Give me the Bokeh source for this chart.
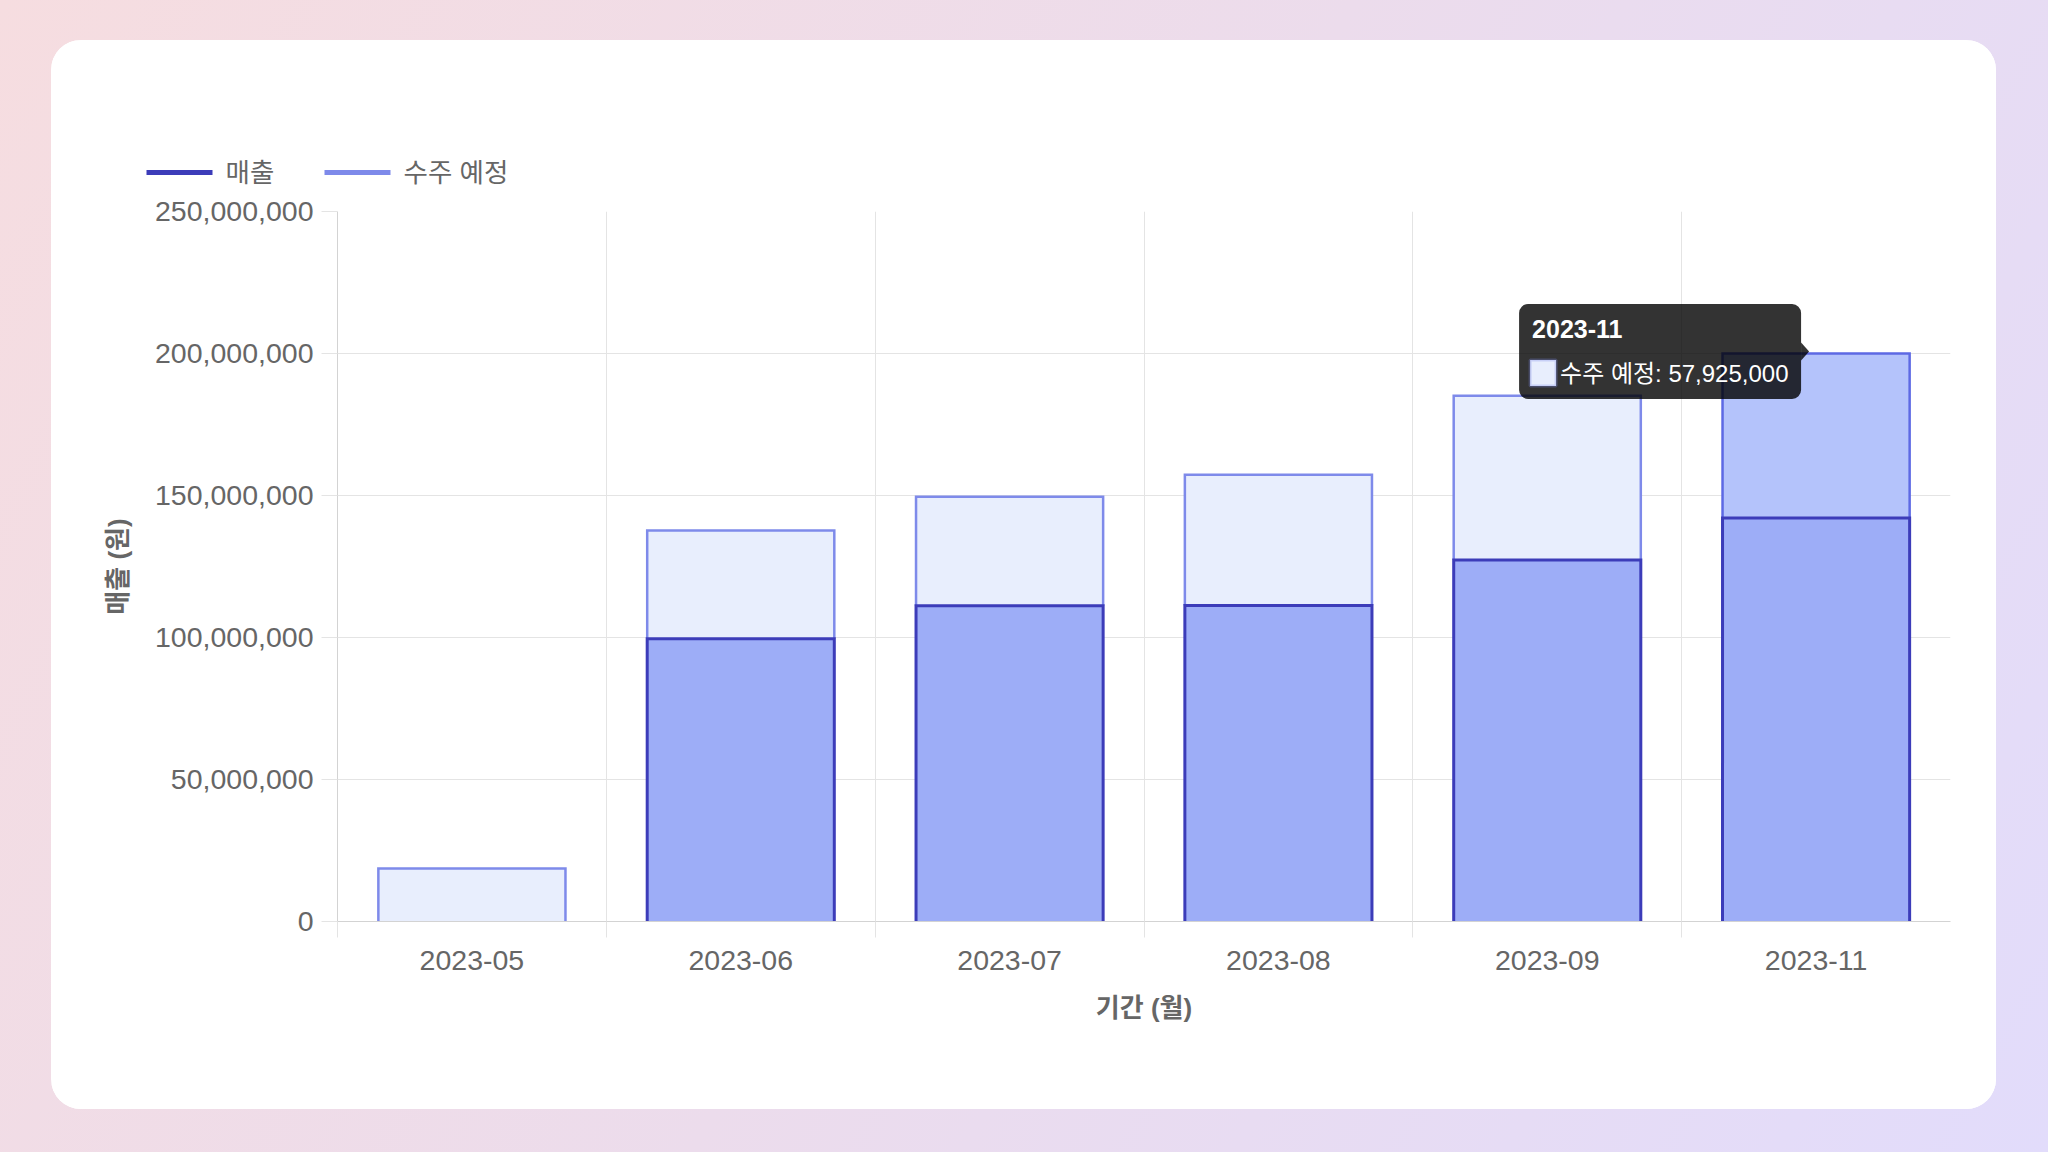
from bokeh.plotting import figure
from bokeh.models import (Range1d, FixedTicker, NumeralTickFormatter, CustomJSTickFormatter,
                          BoxAnnotation, PolyAnnotation, Label)
from bokeh.core.properties import value
from bokeh.layouts import column
from bokeh.embed import file_html
from bokeh.resources import INLINE

# ---------------- data ----------------
categories = ["2023-05", "2023-06", "2023-07", "2023-08", "2023-09", "2023-11"]
sales = [0, 99_600_000, 111_200_000, 111_300_000, 127_300_000, 142_075_000]
pending = [18_700_000, 38_100_000, 38_400_000, 46_000_000, 57_800_000, 57_925_000]
y_ticks = [0, 50_000_000, 100_000_000, 150_000_000, 200_000_000, 250_000_000]
series_names = ["매출", "수주 예정"]
x_title = "기간 (월)"
y_title = "매출 (원)"
hover_category = "2023-11"

# ---------------- styles ----------------
LATIN = "Liberation Sans"
MIXED = "Liberation Sans, Noto Sans CJK KR"
TXT = "#666666"
GRID = "#e4e4e4"
AXIS = "#d3d3d3"
SALES_FILL = "#9dadf7"
SALES_LINE = "#3c3cb9"
PEND_FILL = "#e8eefd"
PEND_LINE = "#7e8aea"
PEND_HOVER_FILL = "#b4c3fb"
PEND_HOVER_LINE = "#5d69e4"

CARD_W, CARD_H = 1945, 1069
LEG_H = 150
MAIN_H = CARD_H - LEG_H
B_L, B_R, B_T, B_B = 286, 46, 171 - LEG_H, 188
FRAME_W = CARD_W - B_L - B_R
FRAME_H = MAIN_H - B_T - B_B
BAR_W = 0.696

# legend layout (pixels inside the legend strip)
LEG_SAMPLE_X0 = [95, 273]
LEG_SAMPLE_W = 66
LEG_TEXT_GAP = 13
LEG_Y = 18

n = len(categories)
Y_MAX = y_ticks[-1]
totals = [s + q for s, q in zip(sales, pending)]
xc = [i + 0.5 for i in range(n)]
lefts = [x - BAR_W / 2 for x in xc]
rights = [x + BAR_W / 2 for x in xc]
hi = categories.index(hover_category)

# ---------------- legend strip (top of the card) ----------------
pl = figure(width=CARD_W, height=LEG_H, x_range=Range1d(0, CARD_W), y_range=Range1d(0, LEG_H),
            x_axis_type=None, y_axis_type=None, output_backend="svg", toolbar_location=None,
            min_border=0, border_fill_color="white", background_fill_color="white",
            outline_line_color=None)
pl.frame_align = False
pl.grid.visible = False
pl.segment(x0=LEG_SAMPLE_X0, x1=[x + LEG_SAMPLE_W for x in LEG_SAMPLE_X0],
           y0=[LEG_Y] * 2, y1=[LEG_Y] * 2,
           line_color=[SALES_LINE, PEND_LINE], line_width=5)
pl.text(x=[x + LEG_SAMPLE_W + LEG_TEXT_GAP for x in LEG_SAMPLE_X0], y=[LEG_Y] * 2,
        text=series_names, text_font=value(MIXED), text_font_size="26.5px",
        text_color=TXT, text_baseline="middle", text_align="left")

# ---------------- main chart ----------------
p = figure(width=CARD_W, height=MAIN_H, x_range=Range1d(0, n), y_range=Range1d(0, Y_MAX),
           output_backend="svg", toolbar_location=None,
           min_border_left=B_L, min_border_right=B_R, min_border_top=B_T, min_border_bottom=B_B,
           border_fill_color="white", background_fill_color="white", outline_line_color=None)
p.frame_align = False

p.xaxis.ticker = FixedTicker(ticks=xc, minor_ticks=list(range(n)))
p.xaxis.formatter = CustomJSTickFormatter(args=dict(cats=categories),
                                          code="return cats[Math.floor(tick)] || ''")
p.xaxis.major_tick_out = 0
p.xaxis.major_tick_in = 0
p.xaxis.minor_tick_out = 16
p.xaxis.minor_tick_in = 0
p.xaxis.minor_tick_line_color = GRID
p.xaxis.axis_line_color = AXIS
p.xaxis.major_label_standoff = 13
p.xgrid.ticker = FixedTicker(ticks=list(range(n)))
p.xgrid.grid_line_color = GRID

p.yaxis.ticker = FixedTicker(ticks=y_ticks)
p.yaxis.formatter = NumeralTickFormatter(format="0,0")
p.yaxis.major_tick_out = 16
p.yaxis.major_tick_in = 0
p.yaxis.minor_tick_line_color = None
p.yaxis.major_tick_line_color = GRID
p.yaxis.axis_line_color = AXIS
p.yaxis.major_label_standoff = 8
p.ygrid.grid_line_color = GRID

for ax in (p.xaxis, p.yaxis):
    ax.major_label_text_font = LATIN
    ax.major_label_text_font_size = "28.5px"
    ax.major_label_text_color = TXT
    ax.axis_label_text_font = MIXED
    ax.axis_label_text_font_size = "26px"
    ax.axis_label_text_font_style = "bold"
    ax.axis_label_text_color = TXT
p.xaxis.axis_label = x_title
p.yaxis.axis_label = y_title
p.xaxis.axis_label_standoff = 20
p.yaxis.axis_label_standoff = 19

# pending bars (stacked on sales)
pend_fill = [PEND_HOVER_FILL if i == hi else PEND_FILL for i in range(n)]
pend_line = [PEND_HOVER_LINE if i == hi else PEND_LINE for i in range(n)]
p.quad(left=lefts, right=rights, bottom=sales, top=totals, fill_color=pend_fill, line_alpha=0)
p.multi_line(xs=[[l, l, r, r] for l, r in zip(lefts, rights)],
             ys=[[b, t, t, b] for b, t in zip(sales, totals)],
             line_color=pend_line, line_width=2.5, line_join="miter")

# sales bars
idx = [i for i in range(n) if sales[i] > 0]
p.quad(left=[lefts[i] for i in idx], right=[rights[i] for i in idx],
       bottom=[0] * len(idx), top=[sales[i] for i in idx],
       fill_color=SALES_FILL, line_alpha=0)
p.multi_line(xs=[[lefts[i], lefts[i], rights[i], rights[i]] for i in idx],
             ys=[[0, sales[i], sales[i], 0] for i in idx],
             line_color=SALES_LINE, line_width=3, line_join="miter")

# tooltip for the hovered bar
PXX = FRAME_W / n
PXY = FRAME_H / Y_MAX
def ux(px):
    return px / PXX
def uy(px):
    return px / PXY

ax_ = xc[hi]
ay_ = totals[hi]
t_right = ax_ - ux(15)
t_left = t_right - ux(282)
t_yc = ay_ + uy(2)
t_top = t_yc + uy(47.5)
t_bot = t_yc - uy(47.5)
p.add_layout(BoxAnnotation(left=t_left, right=t_right, top=t_top, bottom=t_bot,
                           fill_color="black", fill_alpha=0.8, line_alpha=0, border_radius=9))
p.add_layout(PolyAnnotation(xs=[t_right, t_right + ux(8), t_right],
                            ys=[t_yc + uy(9), t_yc, t_yc - uy(9)],
                            fill_color="black", fill_alpha=0.8, line_alpha=0))
p.add_layout(Label(x=t_left + ux(13), y=t_top - uy(25), text=hover_category,
                   text_font=LATIN, text_font_size="25px", text_font_style="bold",
                   text_color="white", text_baseline="middle"))
p.add_layout(BoxAnnotation(left=t_left + ux(11), right=t_left + ux(37),
                           top=t_top - uy(56), bottom=t_top - uy(82),
                           fill_color=PEND_FILL, fill_alpha=1, line_color=PEND_LINE, line_width=3))
p.add_layout(Label(x=t_left + ux(41), y=t_top - uy(69),
                   text=f"{series_names[1]}: {pending[hi]:,}",
                   text_font=MIXED, text_font_size="24px",
                   text_color="white", text_baseline="middle"))

card = column(pl, p, width=CARD_W, height=CARD_H, spacing=0,
              styles={"background": "white", "border-radius": "30px", "overflow": "hidden"})
card.margin = (40, 0, 0, 51)

root = column(card, width=2048, height=1152,
              styles={"position": "fixed", "left": "0px", "top": "0px",
                      "background": "linear-gradient(120deg, #f6dde0 0%, #ecdcec 50%, #e2dcfb 100%)"})

open("out.html", "w").write(file_html(root, INLINE))
